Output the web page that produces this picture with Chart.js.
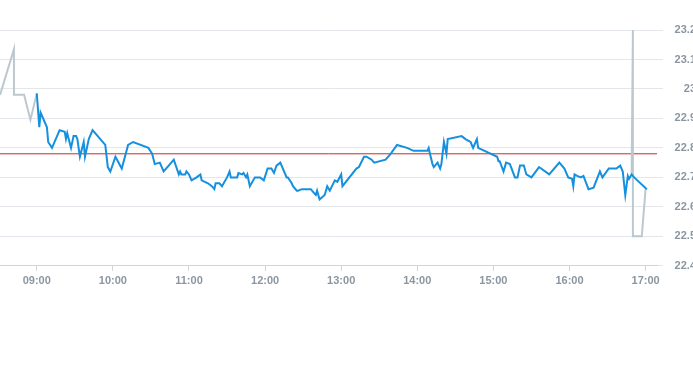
<!DOCTYPE html>
<html>
<head>
<meta charset="utf-8">
<script src="https://cdn.jsdelivr.net/npm/chart.js@4/dist/chart.umd.min.js"></script>
<style>
  html, body { margin: 0; padding: 0; background: #fff; overflow: hidden; }
  .wrap { position: relative; width: 696px; height: 365px; }
</style>
</head>
<body>
<div class="wrap"><canvas id="price-chart"></canvas></div>
<script>
/* ============================================= */
/*                     Data                      */
/* ============================================= */

// regular session (blue)
const sessionTimes = ['09:00','09:02','09:03','09:05','09:08','09:09','09:12','09:18','09:22','09:23','09:24','09:27','09:29','09:31','09:32','09:34','09:37','09:38','09:41','09:44','09:54','09:56','09:58','10:02','10:07','10:12','10:16','10:28','10:31','10:33','10:37','10:40','10:44','10:48','10:52','10:53','10:54','10:57','10:58','11:00','11:02','11:06','11:09','11:10','11:15','11:18','11:20','11:21','11:24','11:26','11:30','11:32','11:33','11:38','11:39','11:42','11:43','11:45','11:46','11:48','11:52','11:56','11:59','12:02','12:05','12:07','12:09','12:12','12:17','12:18','12:21','12:22','12:25','12:26','12:29','12:36','12:38','12:40','12:41','12:43','12:47','12:49','12:51','12:55','12:57','13:00','13:01','13:12','13:14','13:18','13:20','13:24','13:26','13:35','13:39','13:44','13:52','13:57','14:08','14:09','14:10','14:12','14:13','14:16','14:18','14:19','14:21','14:23','14:24','14:35','14:38','14:42','14:44','14:47','14:48','15:03','15:04','15:05','15:08','15:10','15:13','15:17','15:19','15:21','15:24','15:26','15:30','15:36','15:44','15:52','15:56','15:59','16:02','16:03','16:04','16:06','16:09','16:11','16:15','16:19','16:24','16:26','16:31','16:37','16:40','16:42','16:44','16:46','16:47','16:49','16:51','17:01'];
const sessionPrices = [22.985,22.87,22.92,22.90,22.87,22.82,22.80,22.86,22.855,22.83,22.85,22.80,22.84,22.84,22.83,22.77,22.82,22.77,22.83,22.86,22.81,22.735,22.72,22.77,22.73,22.81,22.82,22.80,22.78,22.745,22.75,22.72,22.74,22.76,22.71,22.72,22.71,22.71,22.72,22.71,22.69,22.70,22.71,22.69,22.68,22.67,22.66,22.68,22.68,22.67,22.70,22.72,22.70,22.70,22.715,22.71,22.715,22.70,22.71,22.67,22.70,22.70,22.69,22.73,22.73,22.715,22.74,22.75,22.70,22.70,22.68,22.67,22.655,22.655,22.66,22.66,22.65,22.64,22.655,22.625,22.64,22.67,22.655,22.69,22.685,22.71,22.67,22.73,22.735,22.77,22.77,22.76,22.75,22.76,22.78,22.81,22.80,22.79,22.79,22.80,22.78,22.745,22.735,22.75,22.73,22.745,22.82,22.78,22.83,22.84,22.83,22.82,22.80,22.83,22.80,22.77,22.755,22.755,22.72,22.75,22.745,22.70,22.70,22.74,22.74,22.71,22.70,22.735,22.71,22.75,22.73,22.70,22.695,22.67,22.71,22.705,22.70,22.705,22.66,22.665,22.72,22.70,22.73,22.73,22.74,22.72,22.64,22.705,22.695,22.71,22.70,22.66];

// pre / after hours (grey), null breaks the line
const extTimes = ['08:31','08:42','08:42','08:50','08:55','09:00',null,'16:49','16:50','16:50','16:57','17:00'];
const extPrices = [22.98,23.135,22.98,22.98,22.895,22.985,null,22.71,23.2,22.5,22.5,22.66];

// reference level (red)
const refTimes = ['08:31','17:09'];
const refPrices = [22.78,22.78];

const hourTicks = ['09:00','10:00','11:00','12:00','13:00','14:00','15:00','16:00','17:00'];
const yTicks = [22.4,22.5,22.6,22.7,22.8,22.9,23,23.1,23.2];
const yTickLabels = ['22.4','22.5','22.6','22.7','22.8','22.9','23','23.1','23.2'];

/* ============================================= */
/*                    Chart                      */
/* ============================================= */

const toMin = t => {
    const p = t.split(':');
    return +p[0] * 60 + +p[1];
};

const pairUp = (times, values) => times.map((t, i) =>
    t === null ? { x: null, y: null } : { x: toMin(t), y: values[i] });

const tickColor = '#8c96a0';
const gridColor = '#e3e6ea';

const priceCanvas = document.getElementById('price-chart');

let priceChart = new Chart(priceCanvas, {
    type: 'line',
    data: {
        datasets: [{
            data: pairUp(sessionTimes, sessionPrices),
            borderColor: '#1590de',
            borderWidth: 2,
            pointRadius: 0,
            tension: 0,
            order: 0
        }, {
            data: pairUp(extTimes, extPrices),
            borderColor: '#bcc8d0',
            borderWidth: 2,
            pointRadius: 0,
            tension: 0,
            spanGaps: false,
            order: 1
        }, {
            data: pairUp(refTimes, refPrices),
            borderColor: '#cc2a2a',
            borderWidth: 1,
            pointRadius: 0,
            order: 2
        }]
    },
    options: {
        responsive: true,
        maintainAspectRatio: false,
        animation: false,
        events: [],
        layout: {
            padding: { top: 30, bottom: 73, left: 0, right: 0 }
        },
        plugins: {
            legend: { display: false },
            tooltip: { enabled: false }
        },
        scales: {
            x: {
                type: 'linear',
                min: toMin('08:31'),
                max: toMin('17:09'),
                afterBuildTicks: scale => {
                    scale.ticks = hourTicks.map(t => ({ value: toMin(t) }));
                },
                grid: {
                    drawOnChartArea: false,
                    color: '#cfd5db',
                    tickLength: 5
                },
                border: { color: '#cfd5db' },
                ticks: {
                    color: tickColor,
                    font: { family: 'Arial', size: 11, weight: 'bold' },
                    padding: 4,
                    maxRotation: 0,
                    autoSkip: false,
                    callback: (value) => {
                        const i = hourTicks.findIndex(t => toMin(t) === value);
                        return i < 0 ? '' : hourTicks[i];
                    }
                }
            },
            y: {
                position: 'right',
                min: 22.4,
                max: 23.2,
                afterBuildTicks: scale => {
                    scale.ticks = yTicks.map(v => ({ value: v }));
                },
                afterFit: scale => {
                    scale.width = 39;
                },
                grid: {
                    color: gridColor,
                    tickLength: 6
                },
                border: { display: false },
                ticks: {
                    color: tickColor,
                    font: { family: 'Arial', size: 11, weight: 'bold' },
                    crossAlign: 'far',
                    callback: (value) => {
                        const i = yTicks.findIndex(v => Math.abs(v - value) < 1e-6);
                        return i < 0 ? '' : yTickLabels[i];
                    }
                }
            }
        }
    }
});
</script>
</body>
</html>
